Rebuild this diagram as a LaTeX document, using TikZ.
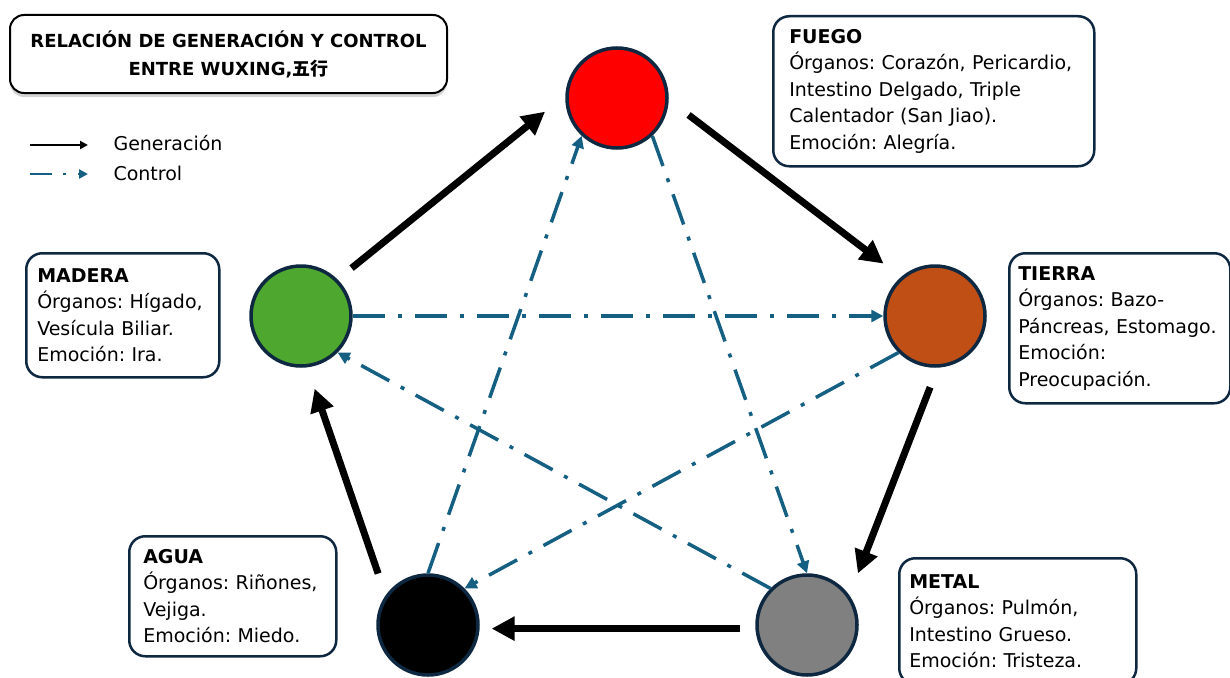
\documentclass[tikz,border=0pt]{standalone}
\usepackage{fontspec}
\setmainfont{DejaVu Sans}
\newfontfamily\cjk{Noto Sans CJK SC}
\usetikzlibrary{arrows.meta,shadows}
\definecolor{navy}{RGB}{14,40,65}
\definecolor{ctrlblue}{RGB}{21,96,130}
\definecolor{woodgreen}{RGB}{78,167,46}
\definecolor{earthorange}{RGB}{192,79,21}
\definecolor{metalgray}{RGB}{128,128,128}
\frenchspacing

\begin{document}
\begin{tikzpicture}[x=1pt,y=-1pt,
    element/.style={shape=circle,draw=navy,line width=3.5pt,minimum size=100pt,inner sep=0pt},
    infobox/.style={shape=rectangle,rounded corners=16pt,draw=navy,line width=2.5pt,fill=white,anchor=north west,align=left,inner ysep=0pt,font=\fontsize{19pt}{26.5pt}\selectfont},
    gen/.style={line width=7pt,-{Triangle[length=23pt,width=23pt]}},
    ctrl/.style={color=ctrlblue,line width=3.5pt,dash pattern=on 32pt off 13pt on 4pt off 13pt,-{Triangle[length=12pt,width=12pt]}}]
        \useasboundingbox (0,0) rectangle (1230,677);

        % title and legend
        \node[shape=rectangle,draw=black,line width=2pt,rounded corners=14pt,fill=white,drop shadow={shadow xshift=0pt,shadow yshift=-4pt,opacity=0.35},minimum width=437pt,minimum height=78pt,align=center,font=\bfseries\fontsize{18pt}{28pt}\selectfont] (titulo) at (228.5,54) {RELACIÓN DE GENERACIÓN Y CONTROL\\ENTRE WUXING,{\cjk 五行}};
        \coordinate (g1) at (30,145);
        \coordinate (g2) at (88,145);
        \coordinate (c1) at (30,174);
        \coordinate (c2) at (88,174);
        \path[line width=2pt,-{Triangle[length=8pt,width=8pt]}] (g1) edge (g2);
        \path[color=ctrlblue,line width=2.5pt,dash pattern=on 22pt off 11pt on 3pt off 12pt,-{Triangle[length=9pt,width=9pt]}] (c1) edge (c2);
        \node[anchor=base west,font=\fontsize{19pt}{19pt}\selectfont] (genlabel) at (110,150) {Generación};
        \node[anchor=base west,font=\fontsize{19pt}{19pt}\selectfont] (ctrllabel) at (110,180) {Control};

        % elements
        \node[element,fill=red] (fuego) at (617,98) {};
        \node[element,fill=woodgreen] (madera) at (301,316) {};
        \node[element,fill=earthorange] (tierra) at (935,316) {};
        \node[element,fill=metalgray] (metal) at (807,625) {};
        \node[element,fill=black] (agua) at (428,625) {};

        \node[infobox,text width=289pt,inner xsep=16pt,minimum height=150pt] (fuegobox) at (772,15) {\textbf{FUEGO}\\Órganos: Corazón, Pericardio,\\Intestino Delgado, Triple\\Calentador (San Jiao).\\Emoción: Alegría.};
        \node[infobox,text width=203pt,inner xsep=9pt,minimum height=150pt] (tierrabox) at (1008,252) {\textbf{TIERRA}\\Órganos: Bazo-\\Páncreas, Estomago.\\Emoción:\\Preocupación.};
        \node[infobox,text width=171pt,inner xsep=11pt,minimum height=124pt] (maderabox) at (25,252) {\textbf{MADERA}\\Órganos: Hígado,\\Vesícula Biliar.\\Emoción: Ira.};
        \node[infobox,text width=179pt,inner xsep=14pt,minimum height=120pt] (aguabox) at (128,535) {\textbf{AGUA}\\Órganos: Riñones,\\Vejiga.\\Emoción: Miedo.};
        \node[infobox,text width=217pt,inner xsep=10pt,minimum height=126pt] (metalbox) at (898,557) {\textbf{METAL}\\Órganos: Pulmón,\\Intestino Grueso.\\Emoción: Tristeza.};

        % generation
        \path[gen] (madera.45) edge[shorten <=18pt,shorten >=26pt] (fuego.177);
        \path[gen] (fuego.358) edge[shorten <=25pt,shorten >=22pt] (tierra.131);
        \path[gen] (tierra.273) edge[shorten <=21pt,shorten >=23.5pt] (metal.35);
        \path[gen] (metal.184) edge[shorten <=15pt,shorten >=12pt] (agua.356);
        \path[gen] (agua.145) edge[shorten <=23pt,shorten >=22.5pt] (madera.277);

        % control
        \path[ctrl] (madera) edge (tierra);
        \path[ctrl] (tierra.225) edge (agua.45);
        \path[ctrl] (agua.90) edge (fuego.227);
        \path[ctrl] (fuego.313) edge (metal.90);
        \path[ctrl] (metal.135) edge (madera.315);
\end{tikzpicture}
\end{document}
